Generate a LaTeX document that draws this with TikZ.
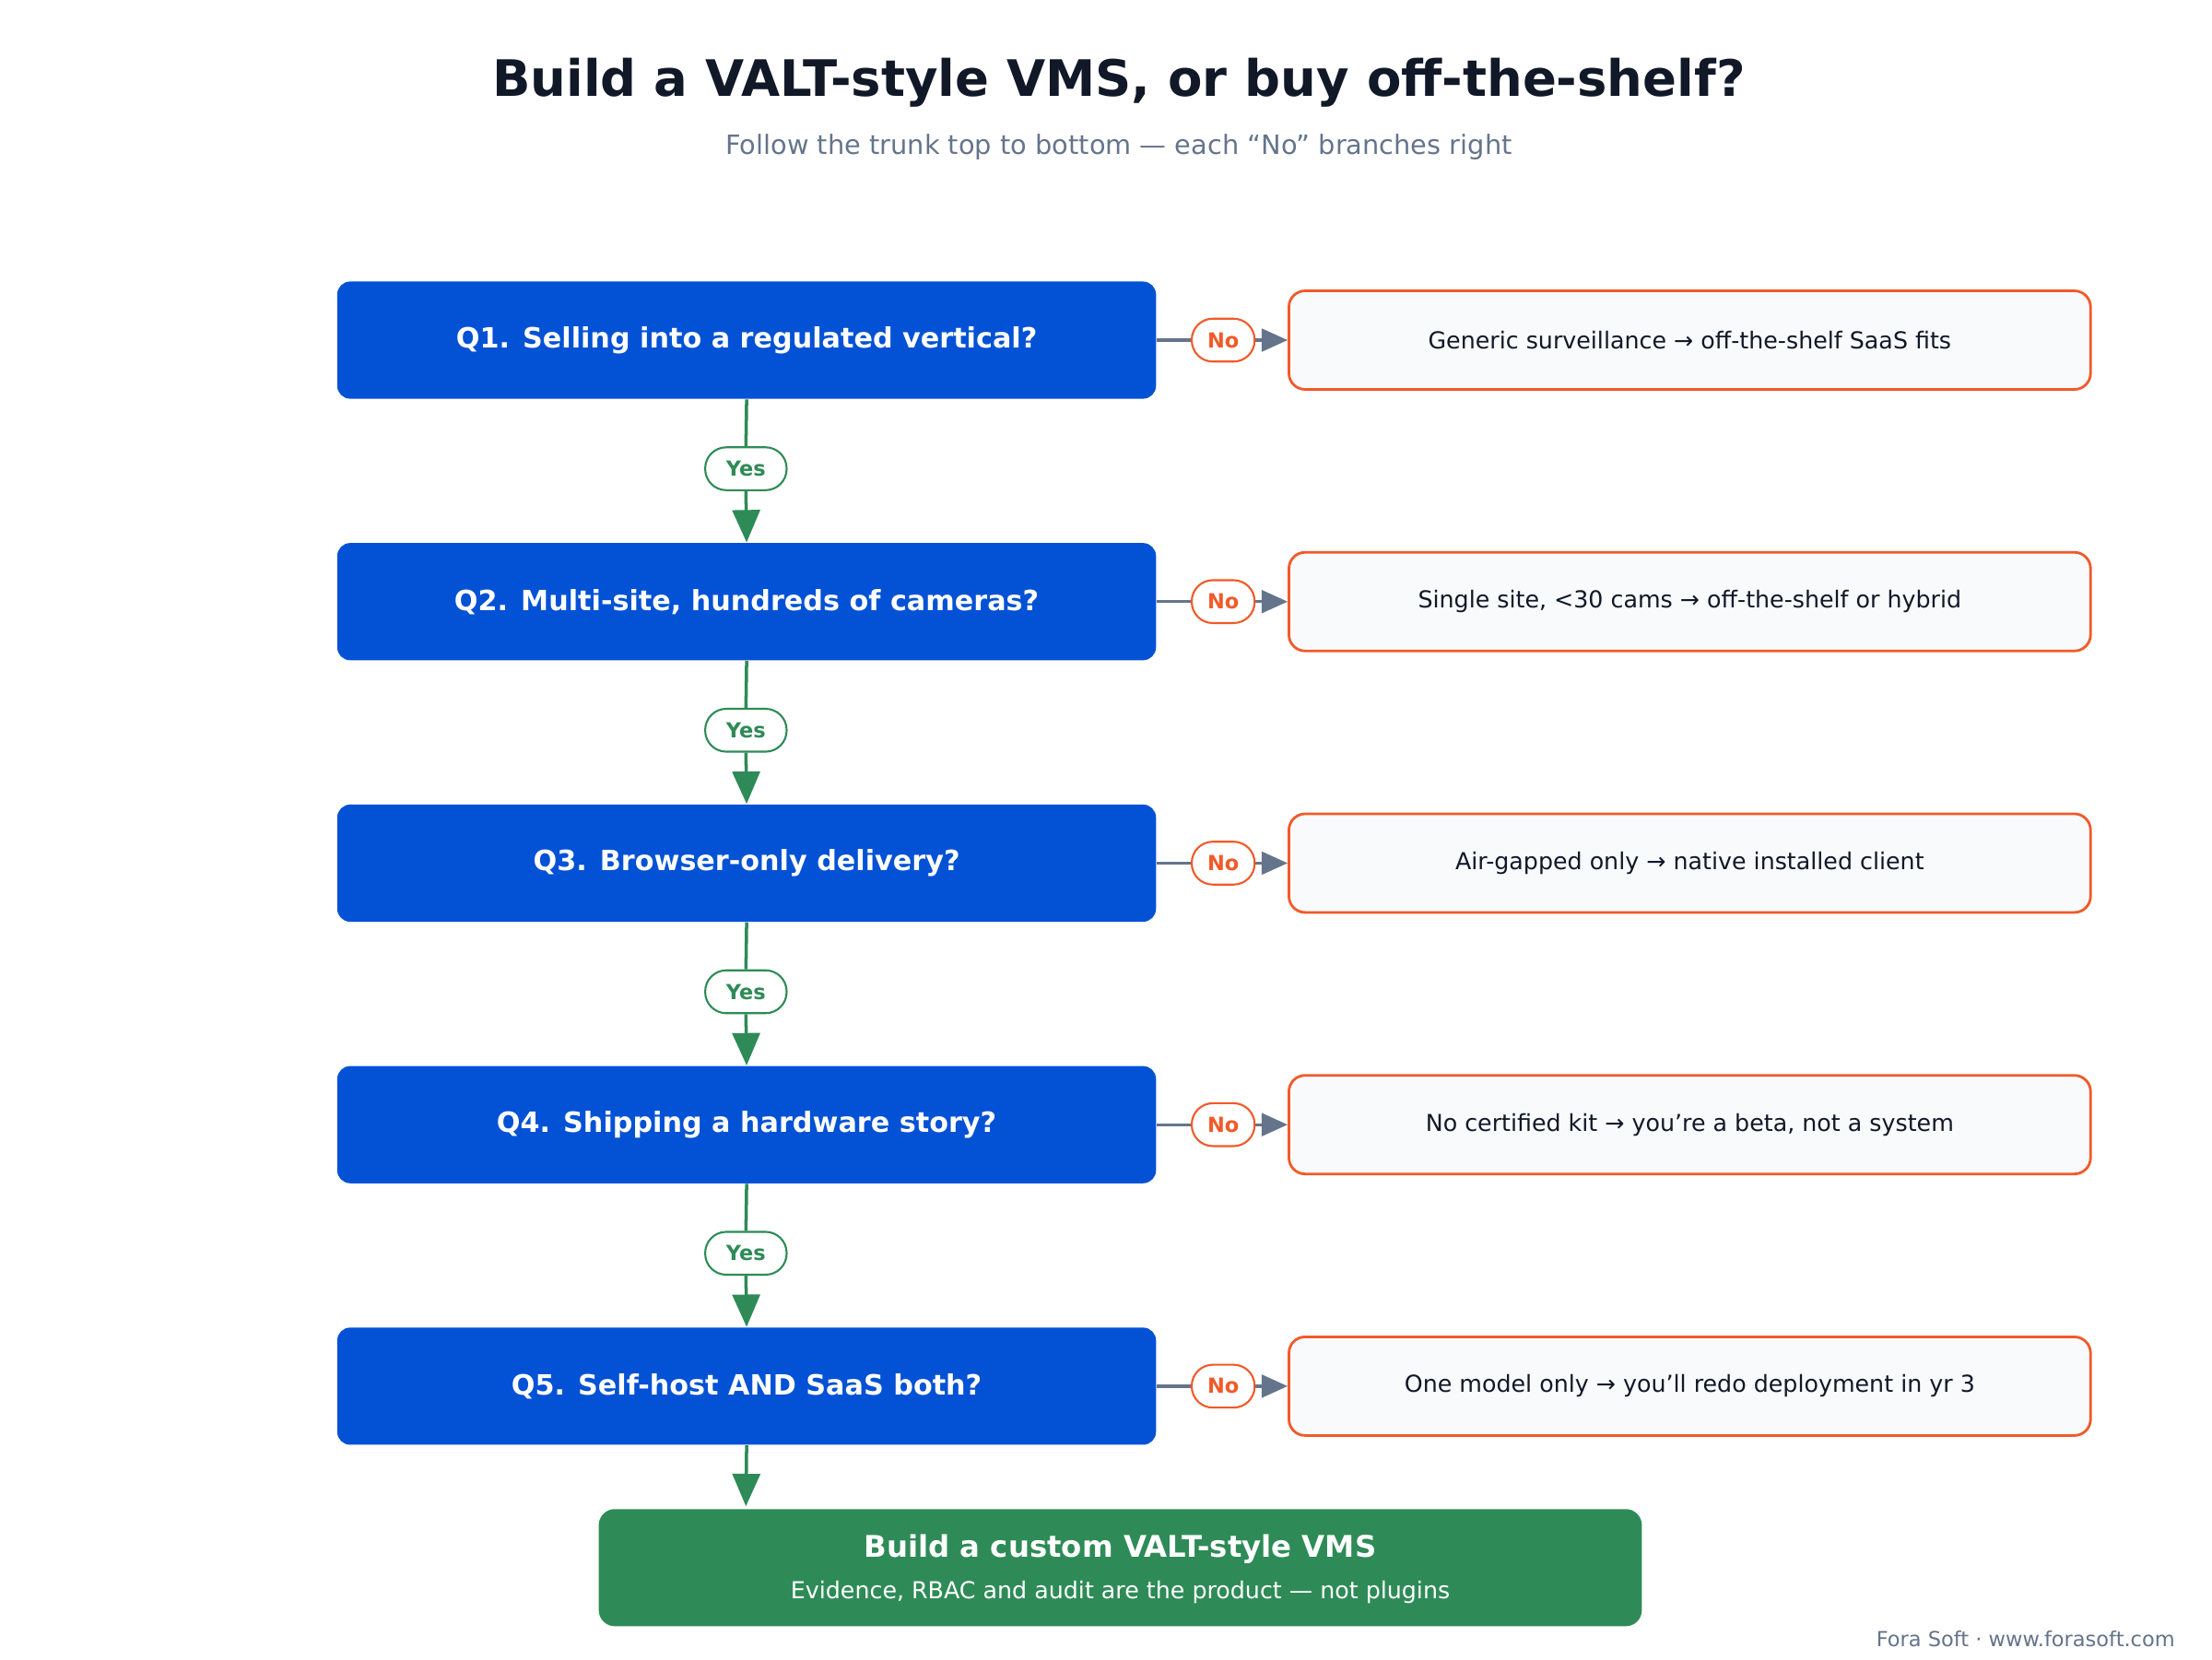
\documentclass[tikz,border=0pt]{standalone}
\usepackage{fontspec}
\setmainfont{DejaVu Sans}
\usetikzlibrary{arrows.meta}
\definecolor{qblue}{HTML}{0352D5}
\definecolor{ogreen}{HTML}{2E8B57}
\definecolor{orng}{HTML}{F15A29}
\definecolor{gry}{HTML}{64748B}
\definecolor{ink}{HTML}{111827}
\definecolor{pale}{HTML}{F8FAFC}
\begin{document}
\begin{tikzpicture}[x=0.0155cm,y=-0.0155cm,
 qbox/.style={fill=qblue,rounded corners=4pt,minimum width=573*0.0155cm,minimum height=82*0.0155cm,text=white,font=\fontsize{8.6pt}{10pt}\selectfont\bfseries,inner sep=0pt},
 outbox/.style={fill=pale,draw=orng,line width=0.8pt,rounded corners=5pt,minimum width=561*0.0155cm,minimum height=69*0.0155cm,text=ink,font=\fontsize{7.2pt}{9pt}\selectfont,inner sep=0pt},
 nop/.style={fill=white,draw=orng,line width=0.6pt,rounded corners=6.5pt,minimum width=44*0.0155cm,minimum height=30*0.0155cm,text=orng,font=\fontsize{6.4pt}{8pt}\selectfont\bfseries,inner sep=0pt},
 yesp/.style={fill=white,draw=ogreen,line width=0.6pt,rounded corners=6.5pt,minimum width=57*0.0155cm,minimum height=30*0.0155cm,text=ogreen,font=\fontsize{6.4pt}{8pt}\selectfont\bfseries,inner sep=0pt},
 ga/.style={draw=ogreen,line width=1pt,-{Triangle[length=10pt,width=8.5pt]}},
 na/.style={draw=gry,line width=0.9pt,-{Triangle[length=8pt,width=7pt]}}]
\useasboundingbox (0,0) rectangle (1548,1161);
\node[font=\fontsize{15.5pt}{18pt}\selectfont\bfseries,text=ink] (title) at (783,58) {Build a VALT-style VMS, or buy off-the-shelf?};
\node[font=\fontsize{8.2pt}{10pt}\selectfont,text=gry] (sub) at (783,103) {Follow the trunk top to bottom — each “No” branches right};
\foreach \i/\y/\qt/\ot in {1/238/{Q1. Selling into a regulated vertical?}/{Generic surveillance → off-the-shelf SaaS fits},
 2/421/{Q2. Multi-site, hundreds of cameras?}/{Single site, <30 cams → off-the-shelf or hybrid},
 3/604/{Q3. Browser-only delivery?}/{Air-gapped only → native installed client},
 4/787/{Q4. Shipping a hardware story?}/{No certified kit → you’re a beta, not a system},
 5/970/{Q5. Self-host AND SaaS both?}/{One model only → you’ll redo deployment in yr 3}}{
 \node[qbox] (q\i) at (522.5,\y) {\qt};
 \node[outbox] (o\i) at (1182.5,\y) {\ot};
 \node[nop] (n\i) at (856,\y) {No};
 \draw[draw=gry,line width=0.9pt] (q\i.east) -- (n\i.west);
 \draw[na] (n\i.east) -- (o\i.west);
}
\node[fill=ogreen,rounded corners=5pt,minimum width=730*0.0155cm,minimum height=82*0.0155cm,inner sep=0pt] (final) at (784,1097) {};
\node[text=white,font=\fontsize{9.2pt}{11pt}\selectfont\bfseries] (ft) at (784,1084) {Build a custom VALT-style VMS};
\node[text=white,font=\fontsize{7.2pt}{9pt}\selectfont] (fs) at (784,1114) {Evidence, RBAC and audit are the product — not plugins};
\foreach \a/\b/\y in {1/2/328,2/3/511,3/4/694,4/5/877}{
 \node[yesp] (y\a) at (522,\y) {Yes};
 \draw[draw=ogreen,line width=1pt] (q\a.south) -- (y\a.north);
 \draw[ga] (y\a.south) -- (q\b.north);
}
\coordinate (fin) at (522,1054);
\draw[ga] (q5.south) -- (fin);
\node[anchor=east,text=gry,font=\fontsize{6.4pt}{8pt}\selectfont] (foot) at (1530,1147) {Fora Soft · www.forasoft.com};
\end{tikzpicture}
\end{document}
